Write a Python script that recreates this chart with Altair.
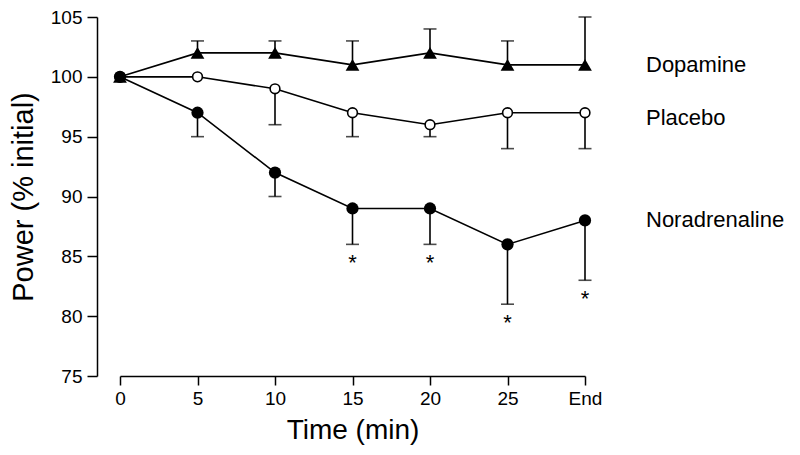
import altair as alt
import pandas as pd

times = [0, 5, 10, 15, 20, 25, 30]          # 30 = "End"
tick_labels = ["0", "5", "10", "15", "20", "25", "End"]

series_names = ["Dopamine", "Placebo", "Noradrenaline"]
dopamine = [100, 102, 102, 101, 102, 101, 101]
dopamine_err = [None, 103, 103, 103, 104, 103, 105]      # upper bars
placebo = [100, 100, 99, 97, 96, 97, 97]
placebo_err = [None, None, 96, 95, 95, 94, 94]           # lower bars
noradrenaline = [100, 97, 92, 89, 89, 86, 88]
noradrenaline_err = [None, 95, 90, 86, 86, 81, 83]       # lower bars
star_times = [15, 20, 25, 30]
label_y = [101, 96.6, 88]

rows = []
for name, vals, errs in [("Dopamine", dopamine, dopamine_err),
                         ("Placebo", placebo, placebo_err),
                         ("Noradrenaline", noradrenaline, noradrenaline_err)]:
    for t, v, e in zip(times, vals, errs):
        rows.append({"t": t, "v": v, "e": e, "s": name})
df = pd.DataFrame(rows)
err_df = df.dropna(subset=["e"])
star_df = err_df[(err_df.s == "Noradrenaline") & (err_df.t.isin(star_times))]
lab_df = pd.DataFrame({"t": [30] * 3, "v": label_y, "s": series_names})

FONT = "Liberation Sans"
xs = alt.Scale(domain=[0, 30], nice=False, zero=False)
ys = alt.Scale(domain=[75, 105], nice=False, zero=False)

x_enc = alt.X("t:Q", scale=xs, title="Time (min)",
              axis=alt.Axis(values=times, labelExpr="datum.value == 30 ? 'End' : datum.label",
                            grid=False, tickSize=9, labelPadding=4, labelFontSize=19,
                            labelFlush=False,
                            titleFontSize=28, titleFontWeight="normal", titlePadding=8,
                            domainColor="black", tickColor="black", domainWidth=1.5,
                            tickWidth=1.5, labelColor="black", titleColor="black",
                            labelFont=FONT, titleFont=FONT))
y_enc = alt.Y("v:Q", scale=ys, title="Power (% initial)",
              axis=alt.Axis(values=[75, 80, 85, 90, 95, 100, 105], grid=False, offset=23,
                            tickSize=10, labelPadding=5, labelFontSize=19,
                            titleFontSize=29, titleFontWeight="normal", titlePadding=12,
                            domainColor="black", tickColor="black", domainWidth=1.5,
                            tickWidth=1.5, labelColor="black", titleColor="black",
                            labelFont=FONT, titleFont=FONT))

base = alt.Chart(df)
lines = base.mark_line(color="black", strokeWidth=1.6).encode(
    x=x_enc, y=y_enc, detail="s:N")

bars = alt.Chart(err_df).mark_rule(color="black", strokeWidth=1.6).encode(
    x=alt.X("t:Q", scale=xs), y=alt.Y("v:Q", scale=ys), y2="e:Q")
caps = alt.Chart(err_df).mark_tick(color="black", orient="horizontal", size=13,
                                   thickness=1.6).encode(
    x=alt.X("t:Q", scale=xs), y=alt.Y("e:Q", scale=ys))

tri = alt.Chart(df[df.s == "Dopamine"]).mark_point(
    shape="triangle-up", filled=True, color="black", size=190, opacity=1).encode(
    x=alt.X("t:Q", scale=xs), y=alt.Y("v:Q", scale=ys))
opn = alt.Chart(df[df.s == "Placebo"]).mark_point(
    shape="circle", filled=True, fill="white", stroke="black", strokeWidth=1.6,
    size=95, opacity=1).encode(
    x=alt.X("t:Q", scale=xs), y=alt.Y("v:Q", scale=ys))
fil = alt.Chart(df[df.s == "Noradrenaline"]).mark_point(
    shape="circle", filled=True, color="black", size=150, opacity=1).encode(
    x=alt.X("t:Q", scale=xs), y=alt.Y("v:Q", scale=ys))

stars = alt.Chart(star_df).mark_text(text="*", fontSize=22, font=FONT, color="black",
                                     baseline="middle", dy=19).encode(
    x=alt.X("t:Q", scale=xs), y=alt.Y("e:Q", scale=ys))

labels = alt.Chart(lab_df).mark_text(align="left", baseline="middle", dx=61,
                                     fontSize=22, font=FONT, color="black").encode(
    x=alt.X("t:Q", scale=xs), y=alt.Y("v:Q", scale=ys), text="s:N")

chart = alt.layer(lines, bars, caps, tri, opn, fil, stars, labels).properties(
    width=465, height=359,
    autosize=alt.AutoSizeParams(type="none"),
    padding={"left": 112, "top": 9, "right": 205, "bottom": 75},
).configure_view(stroke=None)

chart.save("out.html", embed_options={"renderer": "svg", "actions": False})
